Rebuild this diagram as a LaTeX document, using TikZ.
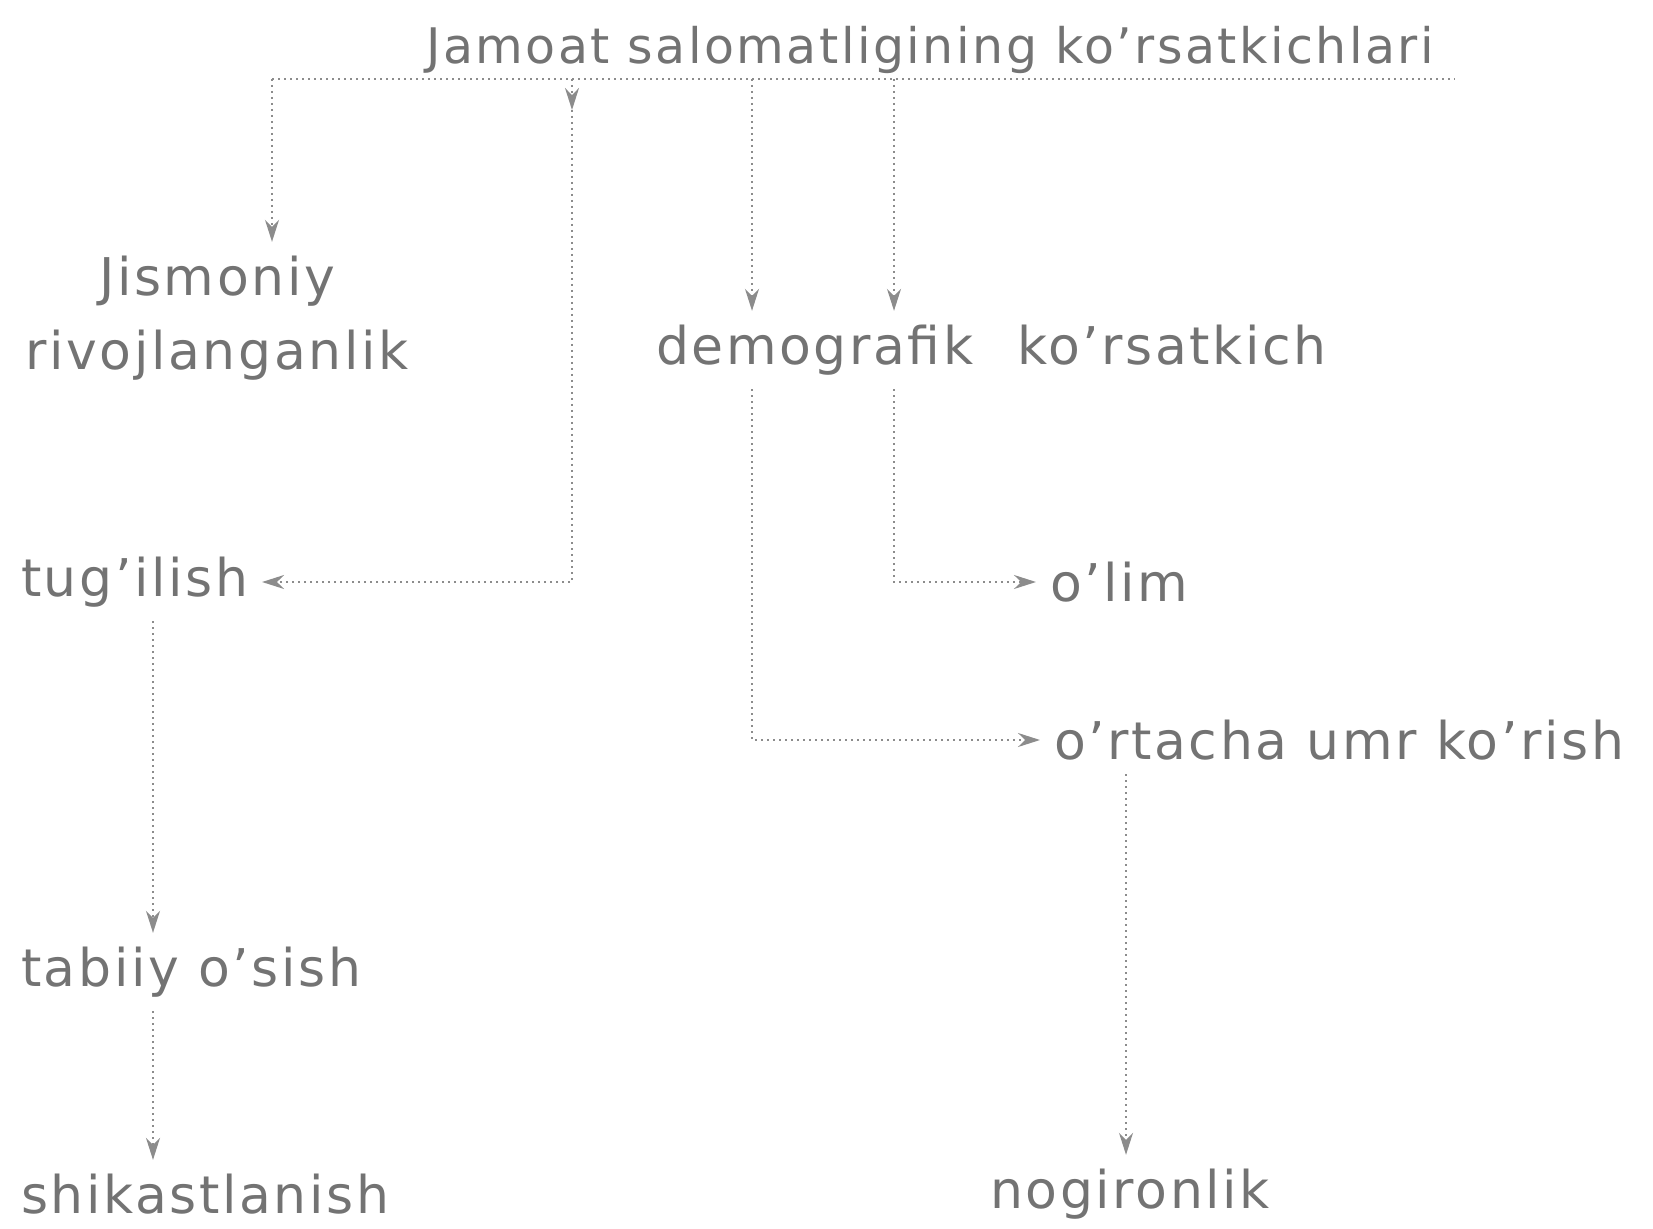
\documentclass[tikz,border=0pt]{standalone}
\usepackage{fontspec}
\setmainfont{DejaVu Sans}[LetterSpace=5]
\usetikzlibrary{arrows.meta}
\begin{document}
\begin{tikzpicture}[x=0.5pt,y=-0.5pt,
  lbl/.style={text=black!55, font=\fontsize{26}{37}\selectfont, inner sep=0pt, outer sep=7pt},
  link/.style={draw=black!45, line width=1pt, dotted},
  tip/.style={-{Stealth[length=11pt,width=7pt]}}]
\useasboundingbox (0,0) rectangle (1653,1229);

% headings and categories
\node[lbl, font=\fontsize{24.5}{30}\selectfont] (title) at (930,50) {Jamoat salomatligining ko'rsatkichlari};
\node[lbl, align=center] (jis) at (217,318) {Jismoniy\\rivojlanganlik};
\node[lbl, anchor=west] (dem) at (642,350) {demografik\hspace{22pt}ko'rsatkich};
\node[lbl, anchor=west] (tug) at (7,582) {tug'ilish};
\node[lbl, anchor=west] (olim) at (1036,582) {o'lim};
\node[lbl, anchor=west] (ort) at (1040,740) {o'rtacha umr ko'rish};
\node[lbl, anchor=west] (tab) at (7,972) {tabiiy o'sish};
\node[lbl, anchor=west] (shi) at (7,1194) {shikastlanish};
\node[lbl] (nog) at (1130,1194) {nogironlik};

% distribution bus under the heading
\coordinate (b1) at (272,79);
\coordinate (b2) at (572,79);
\coordinate (b2t) at (572,110);
\coordinate (b3) at (752,79);
\coordinate (b4) at (894,79);
\coordinate (bR) at (1455,79);
\coordinate (cL) at (153,0);
\coordinate (cR) at (1126,0);
\draw[link] (b1) -- (bR);

% connectors from the bus
\draw[link,tip] (b1) -- (b1 |- jis.north);
\draw[link,tip] (b2) -- (b2t);
\draw[link,tip] (b2t) |- (tug.east);
\draw[link,tip] (b3) -- (b3 |- dem.north);
\draw[link,tip] (b4) -- (b4 |- dem.north);

% demographic branches
\draw[link,tip] (dem.south -| b4) |- (olim.west);
\draw[link,tip] (dem.south -| b3) |- (ort.west);
\draw[link,tip] (ort.south -| cR) -- (nog.north -| cR);

% left chain
\draw[link,tip] (tug.south -| cL) -- (tab.north -| cL);
\draw[link,tip] (tab.south -| cL) -- (shi.north -| cL);
\end{tikzpicture}
\end{document}
